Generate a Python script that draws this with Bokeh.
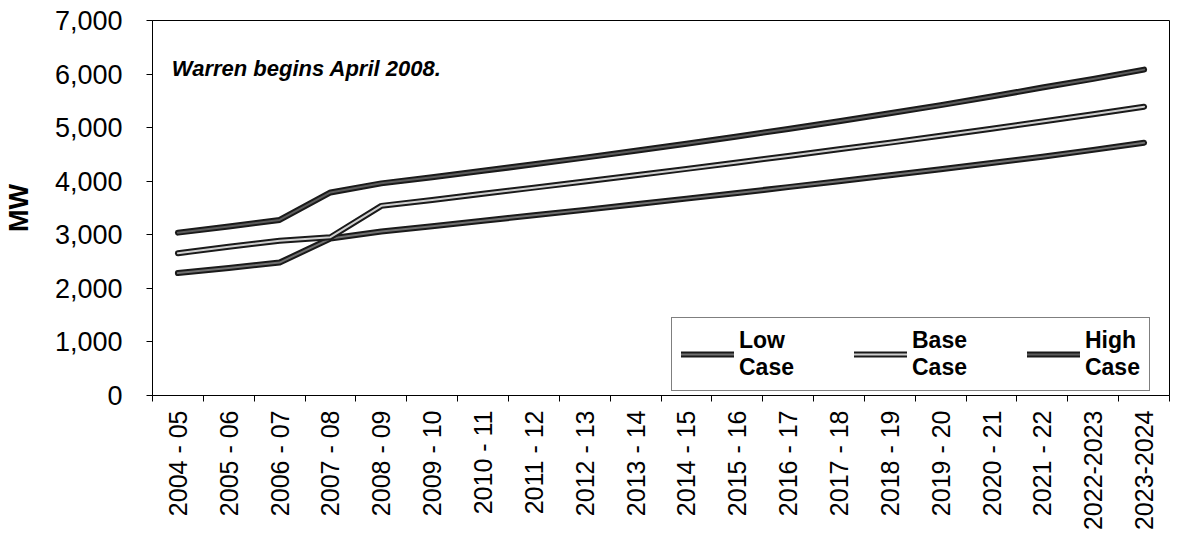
import math
from bokeh.plotting import figure
from bokeh.models import (FixedTicker, Legend, LegendItem, Label, NumeralTickFormatter,
                          Range1d, ColumnDataSource)
from bokeh.embed import file_html
from bokeh.resources import INLINE

periods = ["2004 - 05", "2005 - 06", "2006 - 07", "2007 - 08", "2008 - 09",
           "2009 - 10", "2010 - 11", "2011 - 12", "2012 - 13", "2013 - 14",
           "2014 - 15", "2015 - 16", "2016 - 17", "2017 - 18", "2018 - 19",
           "2019 - 20", "2020 - 21", "2021 - 22", "2022-2023", "2023-2024"]
low_case = [2285, 2380, 2482, 2930, 3060, 3160, 3260, 3365, 3465, 3570,
            3675, 3780, 3890, 4000, 4110, 4225, 4340, 4455, 4585, 4717]
base_case = [2657, 2775, 2890, 2955, 3540, 3650, 3765, 3880, 3995, 4110,
             4230, 4350, 4470, 4595, 4720, 4850, 4980, 5115, 5250, 5390]
high_case = [3040, 3155, 3277, 3790, 3960, 4075, 4195, 4315, 4440, 4570,
             4700, 4835, 4975, 5120, 5270, 5420, 5580, 5750, 5910, 6083]
y_ticks = [0, 1000, 2000, 3000, 4000, 5000, 6000, 7000]
annotation = "Warren begins April 2008."

FONT = "Liberation Sans"
idx = list(range(len(periods)))
src = ColumnDataSource(dict(x=idx, low=low_case, base=base_case, high=high_case))

p = figure(width=1181, height=539, output_backend="svg", toolbar_location=None,
           x_range=Range1d(-0.5, len(periods) - 0.5), y_range=Range1d(0, 7000),
           min_border_left=148, min_border_right=12, min_border_top=20,
           min_border_bottom=144)
p.background_fill_color = "white"
p.border_fill_color = "white"
p.outline_line_color = "black"
p.outline_line_width = 1
p.xgrid.visible = False
p.ygrid.visible = False

# x axis: labels at category centers, tick marks at category boundaries
xax = p.xaxis[0]
xax.ticker = FixedTicker(ticks=idx, minor_ticks=[i - 0.5 for i in range(len(periods) + 1)])
xax.major_label_overrides = {i: lab for i, lab in enumerate(periods)}
xax.major_label_orientation = math.pi / 2
xax.major_label_text_font = FONT
xax.major_label_text_font_size = "25px"
xax.major_label_text_color = "black"
xax.major_label_standoff = 9
xax.major_tick_in = 0
xax.major_tick_out = 0
xax.minor_tick_in = 0
xax.minor_tick_out = 6
xax.minor_tick_line_color = "black"
xax.axis_line_color = "black"

yax = p.yaxis[0]
yax.ticker = FixedTicker(ticks=y_ticks)
yax.formatter = NumeralTickFormatter(format="0,0")
yax.major_label_text_font = FONT
yax.major_label_text_font_size = "27px"
yax.major_label_text_color = "black"
yax.major_label_standoff = 24
yax.major_tick_in = 0
yax.major_tick_out = 6
yax.minor_tick_line_color = None
yax.axis_line_color = "black"
yax.axis_label = "MW"
yax.axis_label_text_font = FONT
yax.axis_label_text_font_size = "27px"
yax.axis_label_text_font_style = "bold"
yax.axis_label_text_color = "black"
yax.axis_label_standoff = 18

def series(col, inner):
    outer = p.line("x", col, source=src, line_color="#1a1a1a", line_width=6,
                   line_cap="round", line_join="round")
    core = p.line("x", col, source=src, line_color=inner, line_width=2,
                  line_cap="round", line_join="round")
    return [outer, core]

r_low = series("low", "#707070")
r_base = series("base", "#cfcfcf")
r_high = series("high", "#5c5c5c")

legend = Legend(items=[LegendItem(label="Low\nCase", renderers=r_low),
                       LegendItem(label="Base\nCase", renderers=r_base),
                       LegendItem(label="High\nCase", renderers=r_high)],
                orientation="horizontal", location=(519, 4),
                label_text_font=FONT, label_text_font_size="23px",
                label_text_font_style="bold", label_text_color="black",
                glyph_width=53, label_standoff=5, spacing=60, padding=9,
                margin=0, border_line_color="black", border_line_width=1,
                background_fill_color="white", background_fill_alpha=1.0)
p.add_layout(legend, "center")

p.add_layout(Label(x=-0.12, y=6104, text=annotation, text_font=FONT,
                   text_font_size="22px", text_font_style="bold italic",
                   text_color="black", text_baseline="alphabetic"))

open("out.html", "w").write(file_html(p, INLINE))
